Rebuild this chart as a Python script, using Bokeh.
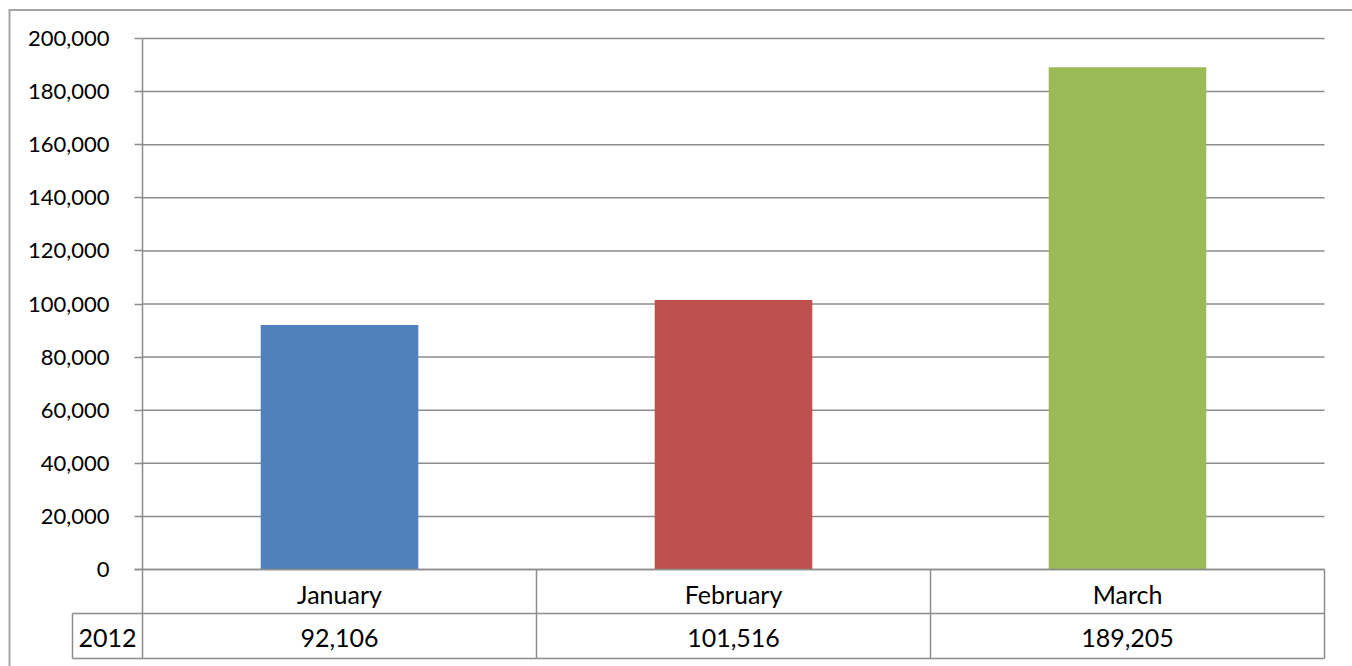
from bokeh.plotting import figure
from bokeh.models import Range1d, LinearAxis, FixedTicker, NumeralTickFormatter
from bokeh.core.properties import value
from bokeh.embed import file_html
from bokeh.resources import INLINE

# ---- data ----
categories = ["January", "February", "March"]
series_name = "2012"
values = [92106, 101516, 189205]
colors = ["#4F81BD", "#C0504D", "#9BBB59"]
y_ticks = [0, 20000, 40000, 60000, 80000, 100000, 120000, 140000, 160000, 180000, 200000]

# ---- geometry (page pixels) ----
W, H = 1352, 666
OFF = 0
PLOT_LEFT = 142
CAT_W = 394
ZERO_Y = 569
TOP_Y = 38
YMAX = 200000
K = (ZERO_Y - TOP_Y) / YMAX


def dx(px):
    return (px - PLOT_LEFT) / CAT_W


def dy(py):
    return (ZERO_Y - py) / K


GRID = "#8c8c8c"
FONT = "Lato"
n = len(categories)
centers = [i + 0.5 for i in range(n)]

p = figure(width=W, height=H,
           x_range=Range1d(dx(OFF), dx(OFF + W)),
           y_range=Range1d(dy(OFF + H), dy(OFF)),
           output_backend="svg", toolbar_location=None,
           min_border=0, x_axis_type=None, y_axis_type=None)
p.outline_line_color = None
p.background_fill_color = "white"
p.border_fill_color = "white"

# outer chart border (left & top)
p.segment(x0=[dx(9), dx(8)], y0=[dy(9.5), dy(9.5)], x1=[dx(9), dx(OFF + W)], y1=[dy(OFF + H), dy(9.5)],
          line_color="#a6a6a6", line_width=2)

# horizontal gridlines
p.segment(x0=[0] * len(y_ticks), y0=y_ticks, x1=[n] * len(y_ticks), y1=y_ticks,
          line_color=GRID, line_width=1.5)

# bars
p.vbar(x=centers, top=values, bottom=0, width=0.4, fill_color=colors, line_color=None)

# data table lines
row_sep = dy(613)
row_bot = dy(658)
left_cell = dx(72)
p.segment(x0=[left_cell, left_cell], y0=[row_sep, row_bot], x1=[n, n], y1=[row_sep, row_bot],
          line_color=GRID, line_width=1.5)
vx = [left_cell] + [float(i + 1) for i in range(n)]
vy0 = [row_sep] + [0.0] * n
p.segment(x0=vx, y0=vy0, x1=vx, y1=[row_bot] * len(vx), line_color=GRID, line_width=1.5)

# table value row
row2_y = dy(637)
p.text(x=[(left_cell + 0) / 2] + centers, y=[row2_y] * (n + 1),
       text=[series_name] + [f"{v:,}" for v in values],
       text_align="center", text_baseline="middle",
       text_font=value(FONT), text_font_size="25px", text_color="#000000")

# y axis
yaxis = LinearAxis(fixed_location=0, bounds=(row_bot, YMAX))
yaxis.ticker = FixedTicker(ticks=y_ticks)
yaxis.formatter = NumeralTickFormatter(format="0,0")
yaxis.axis_line_color = GRID
yaxis.axis_line_width = 1.5
yaxis.major_tick_line_color = GRID
yaxis.major_tick_line_width = 1.5
yaxis.major_tick_in = 0
yaxis.major_tick_out = 8
yaxis.minor_tick_line_color = None
yaxis.major_label_standoff = 25
yaxis.major_label_text_font = FONT
yaxis.major_label_text_font_size = "22px"
yaxis.major_label_text_color = "#000000"
p.add_layout(yaxis, "left")

# x axis (category row of the data table)
xaxis = LinearAxis(fixed_location=0, bounds=(dx(134), n))
xaxis.ticker = FixedTicker(ticks=centers)
xaxis.major_label_overrides = {c: name for c, name in zip(centers, categories)}
xaxis.axis_line_color = GRID
xaxis.axis_line_width = 1.5
xaxis.major_tick_line_color = None
xaxis.minor_tick_line_color = None
xaxis.major_tick_in = 0
xaxis.major_tick_out = 0
xaxis.major_label_standoff = 9
xaxis.major_label_text_font = FONT
xaxis.major_label_text_font_size = "25px"
xaxis.major_label_text_color = "#000000"
p.add_layout(xaxis, "below")

open("out.html", "w").write(file_html(p, INLINE))
